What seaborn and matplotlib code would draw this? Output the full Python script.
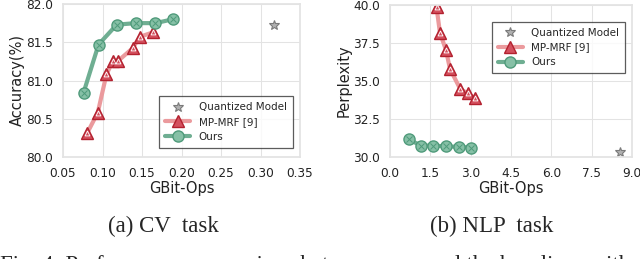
import matplotlib
matplotlib.use("Agg")
import matplotlib.pyplot as plt
import seaborn as sns

sns.set_theme(style="whitegrid", rc={"grid.linewidth": 0.75, "grid.color": "#e3e3e3"})
plt.rcParams["font.family"] = ["DejaVu Sans"]

# CV task
cv_ours_x = [0.076, 0.095, 0.118, 0.142, 0.167, 0.189]
cv_ours_y = [80.84, 81.47, 81.73, 81.75, 81.75, 81.80]
cv_mrf_x = [0.081, 0.094, 0.105, 0.113, 0.119, 0.138, 0.147, 0.164]
cv_mrf_y = [80.32, 80.58, 81.08, 81.25, 81.25, 81.42, 81.57, 81.63]
cv_quant_x = [0.317]
cv_quant_y = [81.72]

# NLP task
nlp_ours_x = [0.69, 1.15, 1.61, 2.08, 2.55, 3.02]
nlp_ours_y = [31.17, 30.75, 30.75, 30.70, 30.67, 30.62]
nlp_mrf_x = [1.73, 1.86, 2.08, 2.23, 2.61, 2.89, 3.15]
nlp_mrf_y = [39.85, 38.15, 37.05, 35.80, 34.48, 34.18, 33.88]
nlp_quant_x = [8.55]
nlp_quant_y = [30.30]

RED_LINE = "#eb9a9d"
RED_MARK = "#d4505e"
RED_EDGE = "#b3212f"
GREEN_LINE = "#6fae92"
GREEN_MARK = "#86c0a6"
GREEN_EDGE = "#4f9a7a"


def draw_panel(ax, quant, mrf, ours, legend_loc):
    qx, qy = quant
    mx, my = mrf
    ox, oy = ours
    ax.plot(qx, qy, linestyle="none", marker="*", markersize=7, color="#7a7a7a",
            markerfacecolor="#b0b0b0", markeredgewidth=0.8, label="Quantized Model")
    sns.lineplot(x=mx, y=my, ax=ax, color=RED_LINE, linewidth=3, sort=False,
                 marker="^", markersize=8, markerfacecolor=RED_MARK,
                 markeredgecolor=RED_EDGE, markeredgewidth=1.0, label="MP-MRF [9]")
    ax.plot(mx, my, linestyle="none", marker="^", markersize=3.5,
            markerfacecolor="none", markeredgecolor="white", markeredgewidth=0.6)
    sns.lineplot(x=ox, y=oy, ax=ax, color=GREEN_LINE, linewidth=3, sort=False,
                 marker="o", markersize=8, markerfacecolor=GREEN_MARK,
                 markeredgecolor=GREEN_EDGE, markeredgewidth=1.0, label="Ours")
    ax.plot(ox, oy, linestyle="none", marker="x", markersize=4,
            markeredgecolor="#4f9a7a", markeredgewidth=0.7)
    leg = ax.legend(loc=legend_loc, fontsize=7.5, frameon=True, fancybox=False,
                    handlelength=2.4, borderpad=0.6, labelspacing=0.45)
    leg.get_frame().set_edgecolor("#333333")
    leg.get_frame().set_linewidth(0.9)
    for sp in ax.spines.values():
        sp.set_color("#e3e3e3")
    ax.tick_params(labelsize=8.7, pad=1, colors="#222222")
    ax.set_xlabel("GBit-Ops", fontsize=10.5, labelpad=1, color="#222222")


fig = plt.figure(figsize=(6.4, 2.59), dpi=100)
ax1 = fig.add_axes([63 / 640, 102 / 259, 237 / 640, 153 / 259])
ax2 = fig.add_axes([390 / 640, 102 / 259, 242 / 640, 152 / 259])

draw_panel(ax1, (cv_quant_x, cv_quant_y), (cv_mrf_x, cv_mrf_y), (cv_ours_x, cv_ours_y),
           (0.405, 0.06))
ax1.set_xlim(0.05, 0.35)
ax1.set_ylim(80.0, 82.0)
ax1.set_xticks([0.05, 0.10, 0.15, 0.20, 0.25, 0.30, 0.35])
ax1.set_yticks([80.0, 80.5, 81.0, 81.5, 82.0])
ax1.xaxis.set_major_formatter(matplotlib.ticker.FormatStrFormatter("%.2f"))
ax1.yaxis.set_major_formatter(matplotlib.ticker.FormatStrFormatter("%.1f"))
ax1.set_ylabel("Accuracy(%)", fontsize=10.5, labelpad=1, color="#222222")

draw_panel(ax2, (nlp_quant_x, nlp_quant_y), (nlp_mrf_x, nlp_mrf_y), (nlp_ours_x, nlp_ours_y),
           (0.42, 0.55))
ax2.set_xlim(0.0, 9.0)
ax2.set_ylim(30.0, 40.0)
ax2.set_xticks([0.0, 1.5, 3.0, 4.5, 6.0, 7.5, 9.0])
ax2.set_yticks([30.0, 32.5, 35.0, 37.5, 40.0])
ax2.xaxis.set_major_formatter(matplotlib.ticker.FormatStrFormatter("%.1f"))
ax2.yaxis.set_major_formatter(matplotlib.ticker.FormatStrFormatter("%.1f"))
ax2.set_ylabel("Perplexity", fontsize=10.5, labelpad=1, color="#222222")

serif = ["Liberation Serif", "DejaVu Serif"]
fig.text(108 / 640, 1 - 232 / 259, "(a) CV  task", ha="left", va="baseline",
         fontsize=16.5, family=serif)
fig.text(430 / 640, 1 - 232 / 259, "(b) NLP  task", ha="left", va="baseline",
         fontsize=16.5, family=serif)
fig.text(0.0, 1 - 271 / 259,
         "Fig. 4: Performance comparison between ours and the baselines with mixed",
         ha="left", va="baseline", fontsize=16.5, family=serif)

fig.savefig("out.png", dpi=100)
